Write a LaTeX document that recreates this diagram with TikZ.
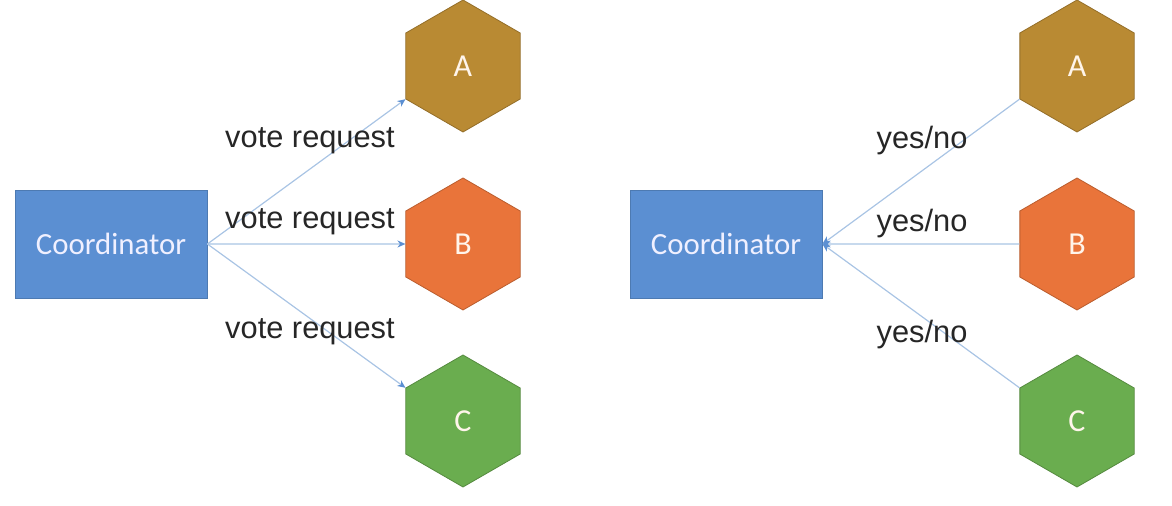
\documentclass[tikz,border=0pt]{standalone}
\usepackage{fontspec}
\setmainfont{Liberation Sans}
\newfontfamily\boxfont{Carlito}
\usetikzlibrary{positioning, shapes.geometric, arrows.meta}

\definecolor{coordblue}{HTML}{5B8FD2}
\definecolor{nodegold}{HTML}{B98A33}
\definecolor{nodeorange}{HTML}{E9743A}
\definecolor{nodegreen}{HTML}{6AAD4F}
\definecolor{linkblue}{HTML}{A9C4E4}
\definecolor{tipblue}{HTML}{5B8FD2}

\begin{document}
\begin{tikzpicture}[x=0.5pt, y=-0.5pt,
    coord/.style={draw=coordblue!85!black, fill=coordblue, minimum width=96pt, minimum height=54pt, inner sep=0pt, text=blue!6, font=\boxfont\fontsize{15.4}{18}\selectfont},
    hexnode/.style={regular polygon, regular polygon sides=6, shape border rotate=30, minimum size=66pt, inner sep=0pt, draw=#1!80!black, fill=#1, text=orange!8, font=\boxfont\fontsize{16}{18}\selectfont},
    msg/.style={inner sep=0pt, text=black!85, font=\fontsize{15.4}{18}\selectfont},
    link/.style={draw=linkblue, line width=0.6pt},
    tip/.style={-{Stealth[length=4pt, width=3.5pt, color=tipblue]}}]
    \useasboundingbox (0,0) rectangle (1172,506);

    % vote request side
    \node[coord] (coord-req) at (111,244) {Coordinator};
    \node[hexnode=nodegold] (a-req) at (463,66) {A};
    \node[hexnode=nodeorange] (b-req) at (463,244) {B};
    \node[hexnode=nodegreen] (c-req) at (463,421) {C};

    \draw[link, tip] (coord-req.east) -- (a-req.210);
    \draw[link, tip] (coord-req.east) -- (b-req.west);
    \draw[link, tip] (coord-req.east) -- (c-req.150);

    \node[msg] (req-a) at (310,141) {vote request};
    \node[msg] (req-b) at (310,222) {vote request};
    \node[msg] (req-c) at (310,332) {vote request};

    % yes/no side
    \node[coord] (coord-ack) at (726,244) {Coordinator};
    \node[hexnode=nodegold] (a-ack) at (1077,66) {A};
    \node[hexnode=nodeorange] (b-ack) at (1077,244) {B};
    \node[hexnode=nodegreen] (c-ack) at (1077,421) {C};

    \draw[link, tip] (a-ack.210) -- (coord-ack.east);
    \draw[link, tip] (b-ack.west) -- (coord-ack.east);
    \draw[link, tip] (c-ack.150) -- (coord-ack.east);

    \node[msg] (ack-a) at (922,141) {yes/no};
    \node[msg] (ack-b) at (922,224) {yes/no};
    \node[msg] (ack-c) at (922,335) {yes/no};
\end{tikzpicture}
\end{document}
